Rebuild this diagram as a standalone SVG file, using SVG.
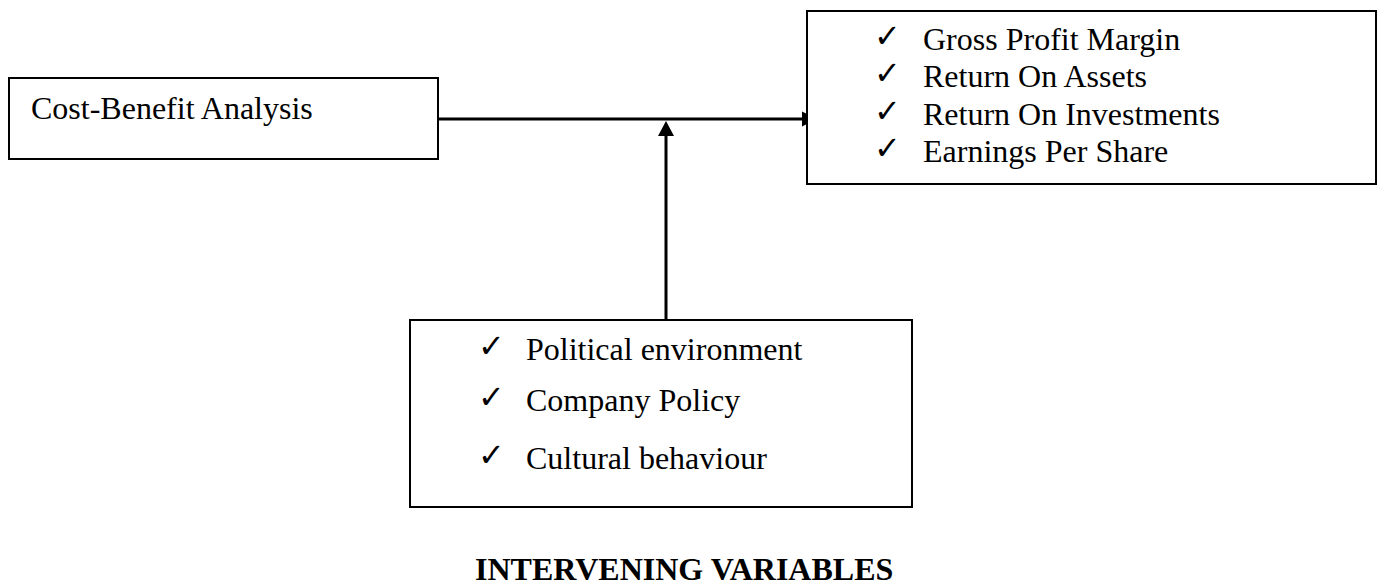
<svg xmlns="http://www.w3.org/2000/svg" width="1383" height="587" viewBox="0 0 1383 587">
<style>
.box{fill:#fff;stroke:#000;stroke-width:2}
.t{font-family:"Liberation Serif","Times New Roman",serif;font-size:32px;fill:#000}
.ck{font-family:"DejaVu Sans",sans-serif;font-size:32px;font-weight:bold;fill:#000}
.h{font-family:"Liberation Serif","Times New Roman",serif;font-size:32px;font-weight:bold;fill:#000}
.ln{stroke:#000;stroke-width:3;fill:none}
</style>
<rect width="1383" height="587" fill="#fff"/>
<g id="connectors">
<line class="ln" x1="439" y1="119" x2="803" y2="119"/>
<polygon points="817,119 802,111.5 802,126.5" fill="#000"/>
<line class="ln" x1="666" y1="320" x2="666" y2="134"/>
<polygon points="666,121 658,136 674,136" fill="#000"/>
</g>
<g id="node-cba">
<rect class="box" x="9" y="78" width="429" height="81"/>
<text class="t" x="31" y="119">Cost-Benefit Analysis</text>
</g>
<g id="node-outcomes">
<rect class="box" x="807" y="11" width="569" height="173"/>
<text class="ck" x="874" y="47">✓</text><text class="t" x="923" y="50">Gross Profit Margin</text>
<text class="ck" x="874" y="84">✓</text><text class="t" x="923" y="87">Return On Assets</text>
<text class="ck" x="874" y="122">✓</text><text class="t" x="923" y="125">Return On Investments</text>
<text class="ck" x="874" y="159">✓</text><text class="t" x="923" y="162">Earnings Per Share</text>
</g>
<g id="node-intervening">
<rect class="box" x="410" y="320" width="502" height="187"/>
<text class="ck" x="478" y="357">✓</text><text class="t" x="526" y="360">Political environment</text>
<text class="ck" x="478" y="408">✓</text><text class="t" x="526" y="411">Company Policy</text>
<text class="ck" x="478" y="466">✓</text><text class="t" x="526" y="469">Cultural behaviour</text>
</g>
<g id="caption">
<text class="h" x="475" y="580">INTERVENING VARIABLES</text>
</g>
</svg>
